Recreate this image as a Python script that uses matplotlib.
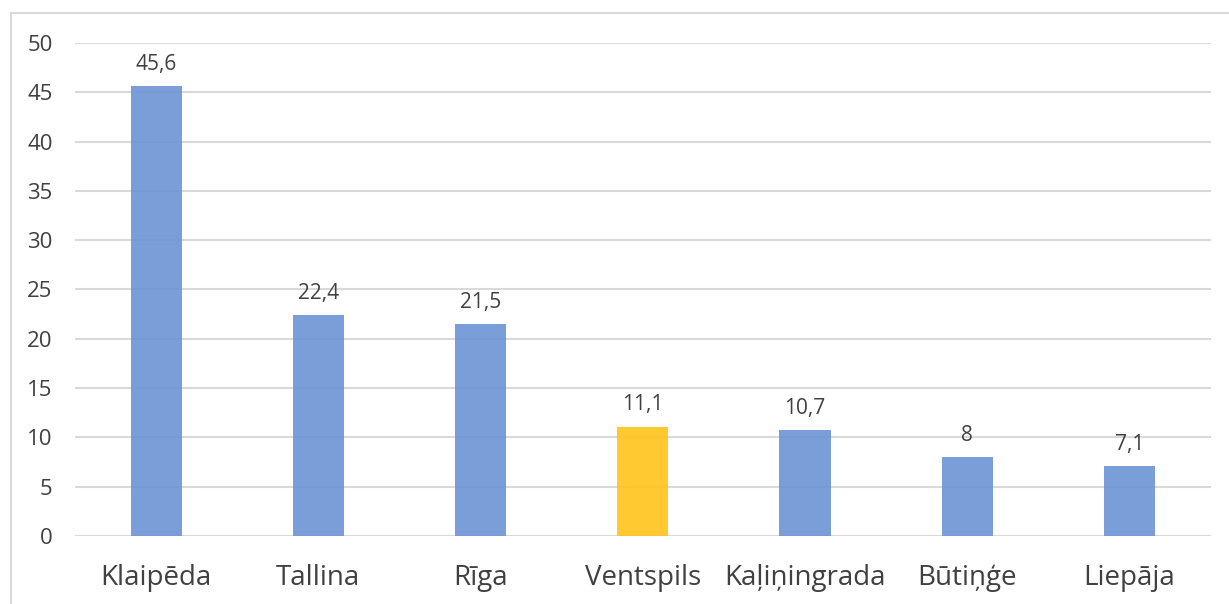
import numpy as np
import matplotlib.pyplot as plt
from matplotlib.patches import Rectangle

plt.rcParams['font.family'] = ['Open Sans', 'DejaVu Sans']

ports = ['Klaipēda', 'Tallina', 'Rīga', 'Ventspils', 'Kaļiņingrada', 'Būtiņģe', 'Liepāja']
values = [45.6, 22.4, 21.5, 11.1, 10.7, 8, 7.1]
highlight = 'Ventspils'

blue = '#6C94D3'
yellow = '#FFC41A'
colors = [yellow if p == highlight else blue for p in ports]

fig = plt.figure(figsize=(12.29, 6.04), dpi=100)
ax = fig.add_axes([0.061, 0.1126, 0.924, 0.8162])

# light frame around the chart area
fig.patches.append(Rectangle((11 / 1229, -0.05), 1.2, 1 - 13 / 604 + 0.05,
                             transform=fig.transFigure, fill=False,
                             edgecolor='#D9D9D9', linewidth=1.5))

x = np.arange(len(ports))
bars = ax.bar(x, values, width=0.315, color=colors, alpha=0.9, zorder=3)

ax.set_xlim(-0.5, len(ports) - 0.5)
ax.set_ylim(0, 50)
ax.set_yticks(np.arange(0, 51, 5))
ax.yaxis.grid(True, color='#D9D9D9', linewidth=1.5, zorder=1)
ax.set_axisbelow(True)
for s in ax.spines.values():
    s.set_visible(False)

ax.set_xticks(x)
ax.set_xticklabels(ports, fontsize=20, color='#404040')
ax.tick_params(axis='x', length=0, pad=20)
ax.tick_params(axis='y', length=0, pad=16, labelsize=16, labelcolor='#404040')

for b, v in zip(bars, values):
    lbl = ('%g' % v).replace('.', ',')
    ax.annotate(lbl, (b.get_x() + b.get_width() / 2, v), xytext=(0, 8),
                textcoords='offset points', ha='center', va='bottom',
                fontsize=15, color='#404040')

fig.savefig('out.png', dpi=100)
